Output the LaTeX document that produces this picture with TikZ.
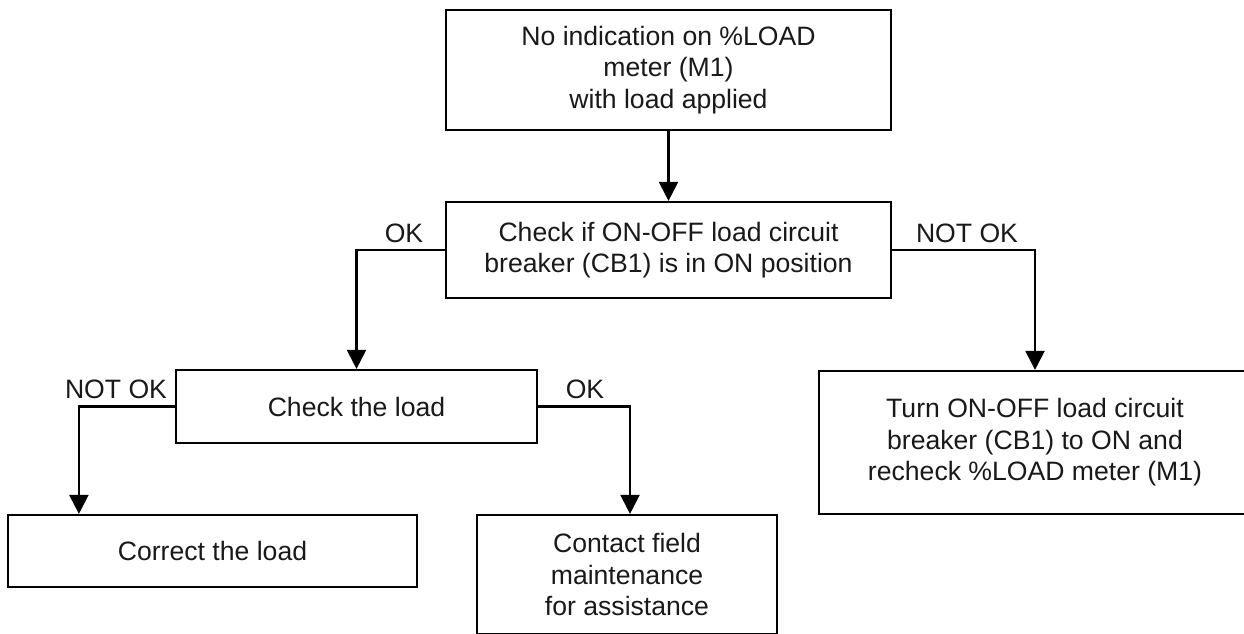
\documentclass[tikz,border=0pt]{standalone}
\usepackage{fontspec}
\setmainfont{Liberation Sans}
\usetikzlibrary{arrows.meta}
\begin{document}
\begin{tikzpicture}[x=1pt,y=-1pt,
  box/.style={draw=black, line width=2.2pt, fill=white, inner sep=0pt, align=center,
    font=\fontsize{26.6pt}{31.5pt}\selectfont, text=black!90},
  lbl/.style={inner sep=0pt, font=\fontsize{26.6pt}{31.5pt}\selectfont, text=black!90},
  arr/.style={draw=black, line width=2.2pt, -{Triangle[width=19pt,length=19pt]}}]
\clip (0,0) rectangle (1244,634);
\fill[white] (0,0) rectangle (1244,634);
% boxes
\node[box, minimum width=445pt, minimum height=120pt] (top) at (668.5,70)
  {No indication on \%LOAD\\meter (M1)\\with load applied};
\node[box, minimum width=445pt, minimum height=96pt] (check) at (668.5,250)
  {Check if ON-OFF load circuit\\breaker (CB1) is in ON position};
\node[box, minimum width=361pt, minimum height=73pt] (load) at (356.5,406.5)
  {Check the load};
\node[box, minimum width=409pt, minimum height=72pt] (correct) at (212.5,551)
  {Correct the load};
\node[box, minimum width=300pt, minimum height=119pt] (contact) at (627,574.5)
  {Contact field\\maintenance\\for assistance};
\node[box, minimum width=432pt, minimum height=143pt] (right) at (1035,442.5)
  {Turn ON-OFF load circuit\\breaker (CB1) to ON and\\recheck \%LOAD meter (M1)};
% labels
\node[lbl] (okA) at (404,233) {OK};
\node[lbl] (nokA) at (967,233) {NOT OK};
\node[lbl] (nokB) at (116,389) {NOT OK};
\node[lbl] (okB) at (585,389) {OK};
% connectors
\draw[arr] (top.south) -- (check.north);
\draw[arr] (check.west) -| (load.north);
\draw[arr] (check.east) -| (right.north);
\draw[arr] (load.west) -| ([xshift=72pt]correct.north west);
\draw[arr] (load.east) -| ([xshift=3pt]contact.north);
\end{tikzpicture}
\end{document}
